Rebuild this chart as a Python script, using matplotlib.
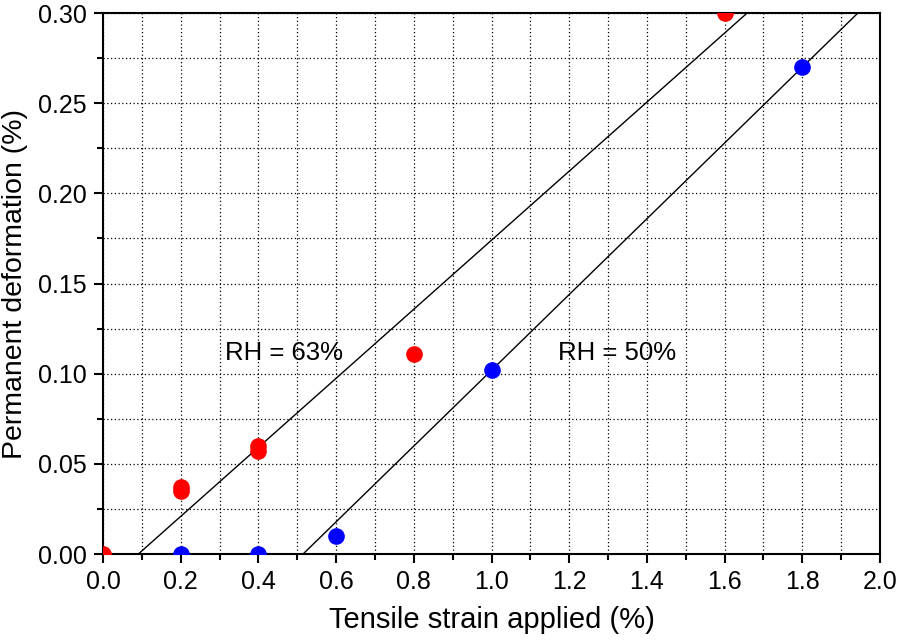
import numpy as np
import matplotlib.pyplot as plt
import matplotlib.ticker as plticker

plt.rcParams['font.family'] = ['Liberation Sans', 'DejaVu Sans']

# measured points
red_x = [0.0, 0.2, 0.2, 0.4, 0.4, 0.8, 1.6]
red_y = [0.0, 0.035, 0.037, 0.060, 0.057, 0.111, 0.300]
blue_x = [0.2, 0.4, 0.6, 1.0, 1.8]
blue_y = [0.0, 0.0, 0.010, 0.102, 0.270]

# fitted lines (endpoints)
fit63_x = [0.091, 1.658]
fit63_y = [0.0, 0.30]
fit50_x = [0.515, 1.943]
fit50_y = [0.0, 0.30]

fig = plt.figure(figsize=(8.98, 6.41), dpi=100)
ax = fig.add_axes([0.1147, 0.1357, 0.8653, 0.844])

ax.plot(fit63_x, fit63_y, color='black', lw=1.0)
ax.plot(fit50_x, fit50_y, color='black', lw=1.0)
ax.plot(red_x, red_y, 'o', color='#ff0000', ms=12, mec='none', zorder=3)
ax.plot(blue_x, blue_y, 'o', color='#0000ff', ms=12, mec='none', zorder=3)

ax.text(0.314, 0.1115, "RH = 63%", fontsize=18.5, va='center', ha='left')
ax.text(1.171, 0.1115, "RH = 50%", fontsize=18.5, va='center', ha='left')

ax.set_xlim(0, 2.0)
ax.set_ylim(0, 0.30)
ax.xaxis.set_major_locator(plticker.MultipleLocator(0.2))
ax.xaxis.set_minor_locator(plticker.MultipleLocator(0.1))
ax.yaxis.set_major_locator(plticker.MultipleLocator(0.05))
ax.yaxis.set_minor_locator(plticker.MultipleLocator(0.025))
ax.xaxis.set_major_formatter(plticker.FormatStrFormatter('%.1f'))
ax.yaxis.set_major_formatter(plticker.FormatStrFormatter('%.2f'))

ax.grid(True, which='both', color='black', linestyle=(0, (1, 2)), lw=0.9)
ax.set_axisbelow(True)

ax.tick_params(which='major', direction='out', length=6.5, width=1.5, labelsize=18, pad=5)
ax.tick_params(which='minor', direction='out', length=4, width=1.5)
for s in ax.spines.values():
    s.set_linewidth(1.5)

ax.set_xlabel("Tensile strain applied (%)", fontsize=21, labelpad=9)
ax.set_ylabel("Permanent deformation (%)", fontsize=20.5, labelpad=7)

fig.savefig("out.png", dpi=100)
